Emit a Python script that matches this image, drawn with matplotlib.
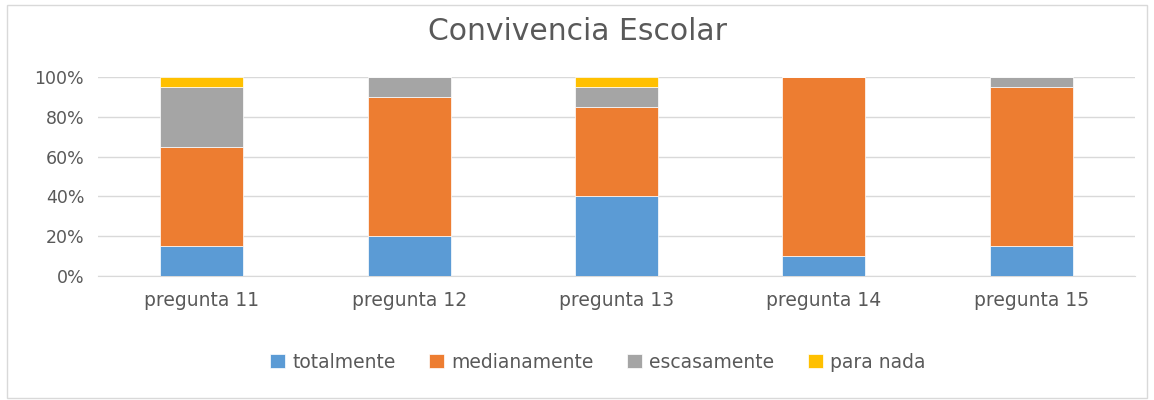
import matplotlib.pyplot as plt
import numpy as np
from matplotlib.patches import Rectangle
from matplotlib.ticker import FuncFormatter

preguntas = ["pregunta 11", "pregunta 12", "pregunta 13", "pregunta 14", "pregunta 15"]
totalmente = [15, 20, 40, 10, 15]
medianamente = [50, 70, 45, 90, 80]
escasamente = [30, 10, 10, 0, 5]
para_nada = [5, 0, 5, 0, 0]

series = [
    ("totalmente", totalmente, "#5b9bd5"),
    ("medianamente", medianamente, "#ed7d31"),
    ("escasamente", escasamente, "#a5a5a5"),
    ("para nada", para_nada, "#ffc000"),
]

plt.rcParams['font.family'] = ['DejaVu Sans']
text_color = "#595959"

fig = plt.figure(figsize=(11.54, 4), dpi=100)
fig.patches.append(Rectangle((0.006, 0.006), 0.988, 0.982, transform=fig.transFigure,
                             fill=False, edgecolor="#d9d9d9", linewidth=1))
ax = fig.add_axes([0.085, 0.31, 0.8985, 0.4975])

x = np.arange(len(preguntas))
bottom = np.zeros(len(preguntas))
for name, vals, color in series:
    vals = np.array(vals, dtype=float)
    ax.bar(x, vals, 0.4, bottom=bottom, color=color, label=name,
           edgecolor="white", linewidth=0.5, zorder=3)
    bottom += vals

ax.set_xlim(-0.5, len(preguntas) - 0.5)
ax.set_ylim(0, 100)
ax.set_yticks(range(0, 101, 20))
ax.yaxis.set_major_formatter(FuncFormatter(lambda v, p: f"{int(v)}%"))
ax.set_xticks(x)
ax.set_xticklabels(preguntas)
ax.grid(axis="y", color="#d9d9d9", linewidth=1, zorder=0)
for s in ["top", "right", "left"]:
    ax.spines[s].set_visible(False)
ax.spines["bottom"].set_color("#d9d9d9")
ax.tick_params(length=0, colors=text_color)
ax.tick_params(axis="x", pad=11, labelsize=13.5)
ax.tick_params(axis="y", pad=10, labelsize=12.5)

fig.text(0.5, 0.92, "Convivencia Escolar", ha="center", va="center",
         fontsize=21.5, color=text_color)

fig.legend(loc="center", bbox_to_anchor=(0.518, 0.095), ncol=4, frameon=False,
           fontsize=13.5, labelcolor=text_color, handlelength=0.8, handleheight=0.8,
           handletextpad=0.37, columnspacing=1.8)

fig.savefig("out.png", dpi=100)
